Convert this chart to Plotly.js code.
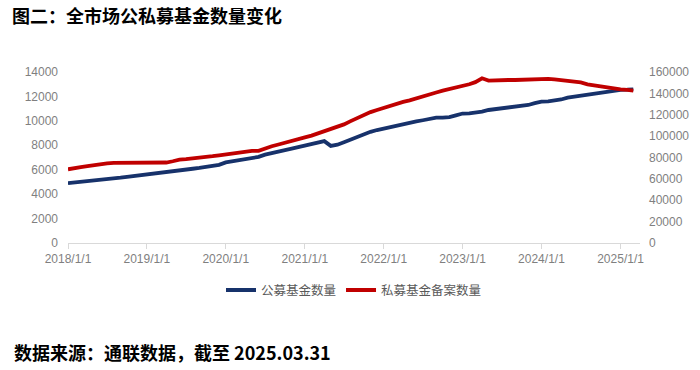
<!DOCTYPE html>
<html>
<head>
<meta charset="utf-8">
<script src="https://cdn.plot.ly/plotly-3.0.1.min.js"></script>
<style>html,body{margin:0;padding:0;background:#fff;}#chart{width:700px;height:370px;}</style>
</head>
<body>
<div id="chart"></div>
<script>
// Monthly series, 2018-01 .. 2025-03
var startYear = 2018, startMonth = 1;
var publicFunds = [
  4900, 4950, 5000, 5060, 5120, 5180, 5240, 5290, 5350, 5420, 5480, 5560,
  5650, 5700, 5760, 5820, 5880, 5940, 6010, 6080, 6150, 6230, 6300, 6400,
  6600, 6680, 6760, 6850, 6950, 7050, 7230, 7330, 7480, 7600, 7720, 7850,
  7990, 8100, 8200, 8340, 7950, 8050, 8250, 8480, 8700, 8900, 9100, 9250,
  9380, 9470, 9560, 9700, 9850, 9950, 10050, 10180, 10260, 10260, 10300, 10450,
  10600, 10620, 10670, 10750, 10890, 10950, 11000, 11080, 11150, 11220, 11300, 11450,
  11570, 11600, 11650, 11750, 11900, 11980, 12080, 12170, 12230, 12280, 12330, 12430,
  12530, 12550, 12580
];
var privateFunds = [
  69000, 70500, 71000, 72000, 73000, 74000, 74500, 75000, 75000, 75000, 75000, 74800,
  75000, 75000, 75300, 75300, 76500, 78000, 78500, 79000, 80000, 80600, 81200, 82000,
  83000, 83500, 84500, 86000, 86200, 86200, 88500, 90500, 92200, 94000, 96000, 97500,
  98800, 100500, 102500, 104500, 106300, 108500, 111000, 114000, 117000, 120000, 122500, 124500,
  126600, 128500, 130500, 132000, 133500, 135500, 137500, 139100, 140800, 142500, 143800, 145500,
  147000, 148500, 150500, 154100, 152000, 151900, 152200, 152500, 152500, 152800, 153100, 153500,
  154000, 153600, 153000, 152500, 152000, 151200, 150200, 148500, 147500, 146500, 145500, 144300,
  143800, 143200, 142500
];
var seriesNames = ['公募基金数量', '私募基金备案数量'];
var yearTicks = ['2018-01-01','2019-01-01','2020-01-01','2021-01-01','2022-01-01','2023-01-01','2024-01-01','2025-01-01'];
var leftTicks = [0, 2000, 4000, 6000, 8000, 10000, 12000, 14000];
var rightTicks = [0, 20000, 40000, 60000, 80000, 100000, 120000, 140000, 160000];
var titleText = '图二：全市场公私募基金数量变化';
var sourceText = '数据来源：通联数据，截至 2025.03.31';

var dates = publicFunds.map(function(_, i) {
  var m = startMonth - 1 + i;
  var y = startYear + Math.floor(m / 12);
  var mm = (m % 12) + 1;
  return y + '-' + (mm < 10 ? '0' + mm : mm) + '-01';
});

var font = 'Liberation Sans, Arial, Noto Sans CJK SC, sans-serif';
var cjk = 'Noto Sans CJK SC, Liberation Sans, sans-serif';

var traces = [
  {x: dates, y: publicFunds, name: seriesNames[0], type: 'scatter', mode: 'lines',
   line: {color: '#17326b', width: 3.8}, yaxis: 'y'},
  {x: dates, y: privateFunds, name: seriesNames[1], type: 'scatter', mode: 'lines',
   line: {color: '#c00000', width: 3.8}, yaxis: 'y2'}
];

var layout = {
  width: 700, height: 370,
  margin: {l: 68, r: 60, t: 72, b: 127, pad: 0},
  paper_bgcolor: '#fff', plot_bgcolor: '#fff',
  showlegend: true,
  font: {family: font, color: '#7f7f7f', size: 12},
  title: {text: titleText, x: 12 / 700, xanchor: 'left', xref: 'container', y: 0.955, yanchor: 'middle', yref: 'container',
          font: {family: cjk, size: 18, color: '#000', weight: 'bold'}},
  xaxis: {
    type: 'date', range: ['2018-01-01', '2025-04-01'],
    tickvals: yearTicks, tickformat: '%Y/%-m/%-d',
    showgrid: false, zeroline: false,
    showline: true, linecolor: '#d9d9d9', linewidth: 1,
    ticks: 'outside', ticklen: 5, tickcolor: '#d9d9d9',
    tickfont: {family: font, size: 12, color: '#7f7f7f'}
  },
  yaxis: {
    range: [0, 14000], tickvals: leftTicks, tickformat: 'd',
    showgrid: false, zeroline: false, showline: false, ticks: '',
    ticklabelstandoff: 9,
    tickfont: {family: font, size: 12, color: '#7f7f7f'}
  },
  yaxis2: {
    range: [0, 160000], tickvals: rightTicks, tickformat: 'd',
    overlaying: 'y', side: 'right',
    showgrid: false, zeroline: false, showline: false, ticks: '',
    ticklabelstandoff: 8,
    tickfont: {family: font, size: 12, color: '#7f7f7f'}
  },
  legend: {
    orientation: 'h', x: 0.5, xanchor: 'center', y: -0.277, yanchor: 'middle',
    font: {family: cjk, size: 12.5, color: '#595959'},
    itemwidth: 30, tracegroupgap: 0, bgcolor: 'rgba(0,0,0,0)'
  },
  annotations: [
    {text: sourceText, xref: 'paper', yref: 'paper', x: -56 / 572, xanchor: 'left', y: -0.64, yanchor: 'middle',
     showarrow: false, font: {family: cjk, size: 18, color: '#000', weight: 'bold'}}
  ]
};

Plotly.newPlot('chart', traces, layout, {displayModeBar: false, staticPlot: true});
</script>
</body>
</html>
